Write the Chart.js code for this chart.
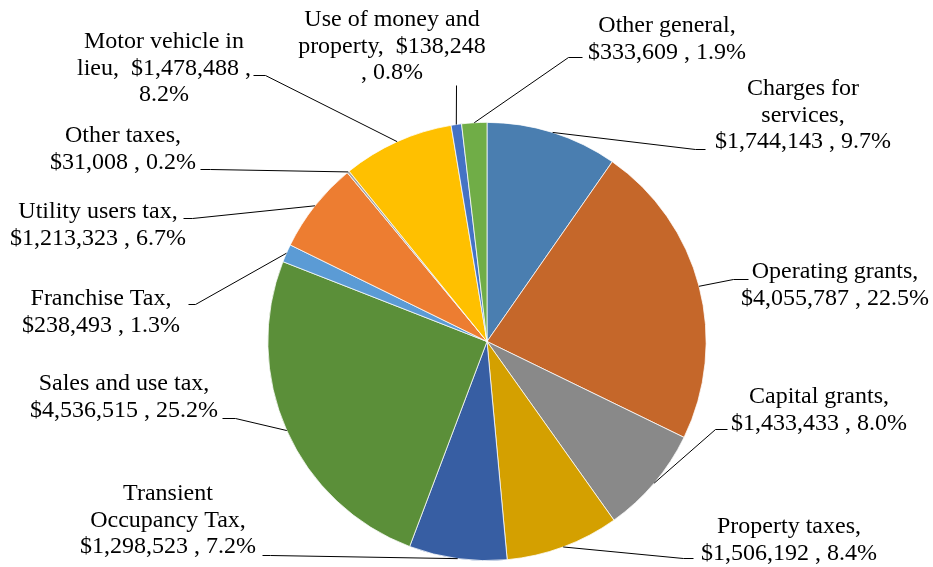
<!DOCTYPE html>
<html>
<head>
<meta charset="utf-8">
<title>Revenues by source</title>
<script src="https://cdn.jsdelivr.net/npm/chart.js@4/dist/chart.umd.min.js"></script>
<style>
  html, body { margin: 0; padding: 0; background: #fff; }
  #wrap { width: 933px; height: 567px; position: relative; }
</style>
</head>
<body>
<div id="wrap"><canvas id="revChart"></canvas></div>
<script>
// revenue sources, clockwise from 12 o'clock
var categories = [
    'Charges for services', 'Operating grants', 'Capital grants', 'Property taxes',
    'Transient Occupancy Tax', 'Sales and use tax', 'Franchise Tax', 'Utility users tax',
    'Other taxes', 'Motor vehicle in lieu', 'Use of money and property', 'Other general'
];
var amounts = [
    1744143, 4055787, 1433433, 1506192,
    1298523, 4536515, 238493, 1213323,
    31008, 1478488, 138248, 333609
];

var sliceColors = [
    '#4a7eb0', '#c5672a', '#898989', '#d4a000',
    '#375ea3', '#5b8f39', '#5b9bd5', '#ed7d31',
    '#a5a5a5', '#ffc000', '#4472c4', '#70ad47'
];

// label placement: x = centre of text, y = first baseline,
// words = how many words go on each line, elbow/tip = leader line bend and end
var labelLayout = [
    { x: 803, y: 95,  words: [2, 1, 3], elbow: [695, 149], tip: [705, 149] },
    { x: 835, y: 278, words: [2, 3],    elbow: [733, 279], tip: [748, 279] },
    { x: 819, y: 403, words: [2, 3],    elbow: [715, 429], tip: [727, 429] },
    { x: 789, y: 533, words: [2, 3],    elbow: [683, 558], tip: [693, 558] },
    { x: 168, y: 500, words: [1, 2, 3], elbow: [270, 555], tip: [262, 555] },
    { x: 124, y: 390, words: [4, 3],    elbow: [235, 418], tip: [222, 418] },
    { x: 101, y: 305, words: [2, 3],    elbow: [195, 304], tip: [188, 304] },
    { x: 98,  y: 218, words: [3, 3],    elbow: [192, 218], tip: [183, 218] },
    { x: 123, y: 142, words: [2, 3],    elbow: [210, 169], tip: [200, 169] },
    { x: 164, y: 48,  words: [3, 3, 1], elbow: [265, 75],  tip: [253, 75] },
    { x: 392, y: 26,  words: [4, 2, 2], elbow: [456, 85],  tip: [456, 85] },
    { x: 667, y: 32,  words: [2, 3],    elbow: [568, 57],  tip: [582, 57] }
];

var total = amounts.reduce(function (a, b) { return a + b; }, 0);

// "Name,  $1,234 , 5.6%" -- the money figure keeps a leading pad space
function labelWords(i) {
    var pct = (amounts[i] / total * 100).toFixed(1) + '%';
    var words = (categories[i] + ',').split(' ');
    return words.concat([' $' + amounts[i].toLocaleString('en-US'), ',', pct]);
}

function splitLines(words, counts) {
    var lines = [], k = 0;
    counts.forEach(function (n) {
        lines.push(words.slice(k, k + n).join(' ').trim());
        k += n;
    });
    return lines;
}

function px(v) { return Math.round(v) + 0.5; }

// outside labels with leader lines
var calloutLabels = {
    id: 'calloutLabels',
    afterDatasetsDraw: function (chart) {
        var ctx = chart.ctx;
        var arcs = chart.getDatasetMeta(0).data;
        ctx.save();
        ctx.strokeStyle = '#000';
        ctx.lineWidth = 1;
        arcs.forEach(function (arc, i) {
            var lay = labelLayout[i];
            var mid = (arc.startAngle + arc.endAngle) / 2;
            var sx = arc.x + Math.cos(mid) * arc.outerRadius;
            var sy = arc.y + Math.sin(mid) * arc.outerRadius;
            ctx.beginPath();
            ctx.moveTo(sx, sy);
            ctx.lineTo(px(lay.elbow[0]), px(lay.elbow[1]));
            ctx.lineTo(px(lay.tip[0]), px(lay.tip[1]));
            ctx.stroke();
        });
        ctx.fillStyle = '#000';
        ctx.font = '24px "Liberation Serif", "Times New Roman", serif';
        ctx.textAlign = 'center';
        ctx.textBaseline = 'alphabetic';
        arcs.forEach(function (arc, i) {
            var lay = labelLayout[i];
            splitLines(labelWords(i), lay.words).forEach(function (line, j) {
                ctx.fillText(line, lay.x, lay.y + j * 26.5);
            });
        });
        ctx.restore();
    }
};

var ctx = document.getElementById('revChart').getContext('2d');
var revChart = new Chart(ctx, {
    type: 'pie',
    data: {
        labels: categories,
        datasets: [{
            data: amounts,
            backgroundColor: sliceColors,
            borderColor: '#ffffff',
            borderWidth: 0.75
        }]
    },
    options: {
        responsive: true,
        maintainAspectRatio: false,
        animation: false,
        layout: {
            padding: { left: 267, right: 226, top: 122, bottom: 6 }
        },
        plugins: {
            legend: { display: false },
            tooltip: { enabled: false }
        }
    },
    plugins: [calloutLabels]
});
</script>
</body>
</html>
